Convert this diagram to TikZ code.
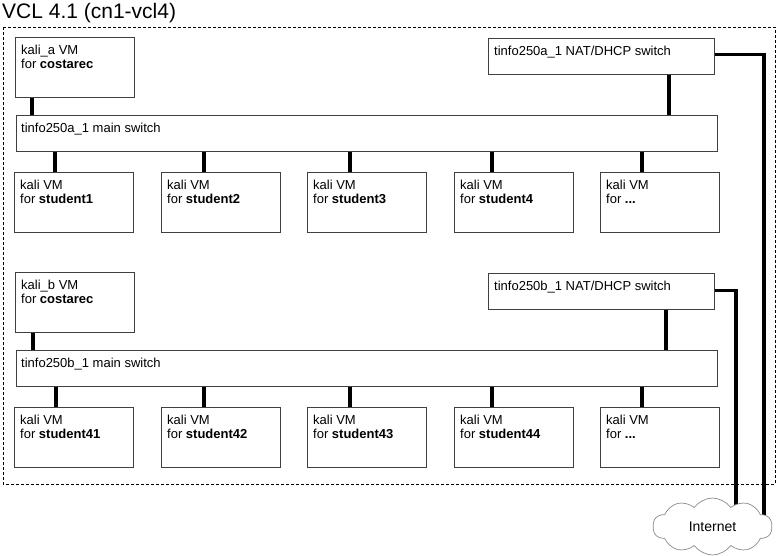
\documentclass[tikz,border=0pt]{standalone}
\usepackage{fontspec}
\setmainfont{Liberation Sans}
\usetikzlibrary{shapes.symbols,calc}
\begin{document}
\begin{tikzpicture}[x=1pt,y=-1pt,
  box/.style={draw=black!75,line width=0.8pt,anchor=north west,inner sep=0pt,fill=white},
  vmbox/.style={box,minimum width=119,minimum height=60},
  swbox/.style={box,minimum height=36},
  txt/.style={anchor=north west,align=left,inner sep=0pt,font=\fontsize{13}{14}\selectfont},
  conn/.style={line width=3.6pt},
  frame/.style={line width=0.9pt,dash pattern=on 3pt off 2pt}]
\useasboundingbox (0,0) rectangle (776,556);
% outer dashed frame
\draw[frame] (3,27) rectangle (775,484);
\node[anchor=base west,inner sep=0pt,font=\fontsize{21}{23}\selectfont] (title) at (2,18.5) {VCL 4.1 (cn1-vcl4)};

% ---------- group a ----------
\node[vmbox] (ka) at (15,37) {};
\node[txt] (kat) at ([shift={(6,8)}]ka.north west) {kali\_a VM\\for \textbf{costarec}};
\node[swbox,minimum width=226] (na) at (488,38) {};
\node[txt] (nat) at ([shift={(6,8)}]na.north west) {tinfo250a\_1 NAT/DHCP switch};
\node[swbox,minimum width=701] (ma) at (16,115) {};
\node[txt] (mat) at ([shift={(5,8)}]ma.north west) {tinfo250a\_1 main switch};
\node[vmbox] (sa1) at (14,172) {};
\node[vmbox] (sa2) at (161,172) {};
\node[vmbox] (sa3) at (307,172) {};
\node[vmbox] (sa4) at (454,172) {};
\node[vmbox] (sa5) at (600,172) {};
\node[txt] (sa1t) at ([shift={(6,8)}]sa1.north west) {kali VM\\for \textbf{student1}};
\node[txt] (sa2t) at ([shift={(6,8)}]sa2.north west) {kali VM\\for \textbf{student2}};
\node[txt] (sa3t) at ([shift={(6,8)}]sa3.north west) {kali VM\\for \textbf{student3}};
\node[txt] (sa4t) at ([shift={(6,8)}]sa4.north west) {kali VM\\for \textbf{student4}};
\node[txt] (sa5t) at ([shift={(6,8)}]sa5.north west) {kali VM\\for \textbf{...}};

\draw[conn] (ka.south -| 32,0) -- (ma.north -| 32,0);
\draw[conn] (na.south -| 669,0) -- (ma.north -| 669,0);
\draw[conn] (ma.south -| 55,0) -- (sa1.north -| 55,0);
\draw[conn] (ma.south -| 204,0) -- (sa2.north -| 204,0);
\draw[conn] (ma.south -| 350,0) -- (sa3.north -| 350,0);
\draw[conn] (ma.south -| 492,0) -- (sa4.north -| 492,0);
\draw[conn] (ma.south -| 642,0) -- (sa5.north -| 642,0);

% ---------- group b ----------
\node[vmbox] (kb) at (15,272) {};
\node[txt] (kbt) at ([shift={(6,8)}]kb.north west) {kali\_b VM\\for \textbf{costarec}};
\node[swbox,minimum width=226] (nb) at (488,273) {};
\node[txt] (nbt) at ([shift={(6,8)}]nb.north west) {tinfo250b\_1 NAT/DHCP switch};
\node[swbox,minimum width=701] (mb) at (16,350) {};
\node[txt] (mbt) at ([shift={(5,8)}]mb.north west) {tinfo250b\_1 main switch};
\node[vmbox] (sb1) at (14,407) {};
\node[vmbox] (sb2) at (161,407) {};
\node[vmbox] (sb3) at (307,407) {};
\node[vmbox] (sb4) at (454,407) {};
\node[vmbox] (sb5) at (600,407) {};
\node[txt] (sb1t) at ([shift={(6,8)}]sb1.north west) {kali VM\\for \textbf{student41}};
\node[txt] (sb2t) at ([shift={(6,8)}]sb2.north west) {kali VM\\for \textbf{student42}};
\node[txt] (sb3t) at ([shift={(6,8)}]sb3.north west) {kali VM\\for \textbf{student43}};
\node[txt] (sb4t) at ([shift={(6,8)}]sb4.north west) {kali VM\\for \textbf{student44}};
\node[txt] (sb5t) at ([shift={(6,8)}]sb5.north west) {kali VM\\for \textbf{...}};

\draw[conn] (kb.south -| 33,0) -- (mb.north -| 33,0);
\draw[conn] (nb.south -| 666,0) -- (mb.north -| 666,0);
\draw[conn] (mb.south -| 56,0) -- (sb1.north -| 56,0);
\draw[conn] (mb.south -| 204,0) -- (sb2.north -| 204,0);
\draw[conn] (mb.south -| 350,0) -- (sb3.north -| 350,0);
\draw[conn] (mb.south -| 492,0) -- (sb4.north -| 492,0);
\draw[conn] (mb.south -| 642,0) -- (sb5.north -| 642,0);

% ---------- Internet ----------
\coordinate (ia) at (764,520);
\coordinate (ib) at (736,512);
\draw[conn] ([yshift=2]na.east) -| (ia);
\draw[conn] ([yshift=1]nb.east) -| (ib);
\node[cloud,cloud puffs=10,cloud puff arc=110,aspect=2.2,draw=black!45,fill=white,line width=0.7pt,
  minimum width=119,minimum height=57,inner sep=0pt,font=\fontsize{14}{16}\selectfont] (inet) at (712.5,526.5) {Internet};
\end{tikzpicture}
\end{document}
